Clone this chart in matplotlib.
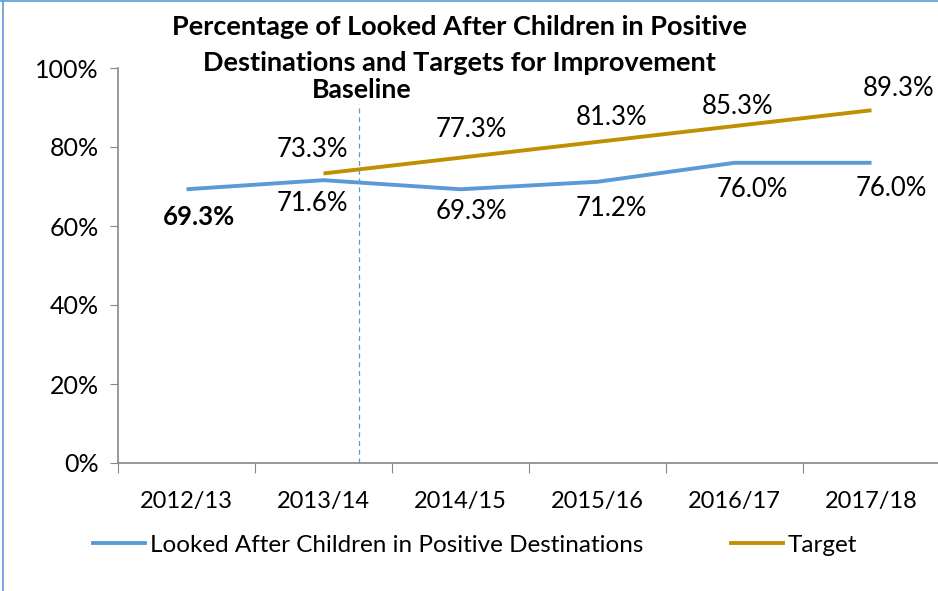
import numpy as np
import matplotlib.pyplot as plt
from matplotlib.lines import Line2D

# data
years = ['2012/13', '2013/14', '2014/15', '2015/16', '2016/17', '2017/18']
lac_pct = [69.3, 71.6, 69.3, 71.2, 76.0, 76.0]
target_years = ['2013/14', '2014/15', '2015/16', '2016/17', '2017/18']
target_pct = [73.3, 77.3, 81.3, 85.3, 89.3]
yticks = [0, 20, 40, 60, 80, 100]

blue = '#5B9BD5'
gold = '#BF9000'
grey = '#888888'
plt.rcParams['font.family'] = ['Lato', 'DejaVu Sans']

fig = plt.figure(figsize=(9.38, 5.91), dpi=100)
W, H = 938, 591
ax = fig.add_axes([118 / W, (H - 463) / H, 822 / W, 395 / H])

x = np.arange(len(years))
xt = np.array([years.index(y) for y in target_years])
ax.plot(x, lac_pct, color=blue, lw=2.8, solid_capstyle='butt')
ax.plot(xt, target_pct, color=gold, lw=2.8, solid_capstyle='butt')

ax.set_xlim(-0.5, len(years) - 0.5)
ax.set_ylim(0, 100)
ax.set_yticks(yticks)
ax.set_yticklabels([f'{v}%' for v in yticks], fontsize=18)
ax.set_xticks(np.arange(-0.5, len(years)), labels=[])
ax.set_xticks(x, labels=years, minor=True)
ax.tick_params(axis='x', which='minor', length=0, pad=20, labelsize=17)
ax.tick_params(axis='x', which='major', length=7, color=grey, direction='out')
ax.tick_params(axis='y', length=6, color=grey, pad=8)
for s in ['top', 'right']:
    ax.spines[s].set_visible(False)
for s in ['left', 'bottom']:
    ax.spines[s].set_color(grey)
    ax.spines[s].set_linewidth(1.2)

# data labels
lac_offsets = [(12, -28), (-11, -23), (11, -22), (14, -27), (18, -27), (20, -26)]
for i, (xi, v) in enumerate(zip(x, lac_pct)):
    dx, dy = lac_offsets[i]
    ax.annotate(f'{v:.1f}%', (xi, v), xytext=(dx, dy), textcoords='offset pixels',
                ha='center', va='center', fontsize=18.5,
                fontweight='bold' if i == 0 else 'normal')
tgt_offsets = [(-11, 24), (11, 28), (14, 24), (3, 20), (27, 22)]
for (xi, v), (dx, dy) in zip(zip(xt, target_pct), tgt_offsets):
    ax.annotate(f'{v:.1f}%', (xi, v), xytext=(dx, dy), textcoords='offset pixels',
                ha='center', va='center', fontsize=18.5)

# baseline marker
ax.plot([1.26, 1.26], [0, 91], color=blue, lw=0.9, ls=(0, (4, 3)), clip_on=False)
fig.text(362 / W, 1 - 90 / H, 'Baseline', ha='center', va='center',
         fontsize=19.2, fontweight='bold')

fig.text(459 / W, 1 - 27 / H, 'Percentage of Looked After Children in Positive',
         ha='center', va='center', fontsize=19.5, fontweight='bold')
fig.text(459 / W, 1 - 63 / H, 'Destinations and Targets for Improvement',
         ha='center', va='center', fontsize=19.5, fontweight='bold')

# legend
handles = [Line2D([], [], color=blue, lw=2.8),
           Line2D([], [], color=gold, lw=2.8)]
fig.legend(handles, ['Looked After Children in Positive Destinations', 'Target'],
           loc='center', bbox_to_anchor=(475 / W, 1 - 545 / H), ncol=2,
           frameon=False, fontsize=17.5, handlelength=2.15, handletextpad=0.2,
           columnspacing=3.6)

# chart border
fig.add_artist(Line2D([3 / W, 3 / W], [0, 1], color=blue, lw=1.2))
fig.add_artist(Line2D([0, 1], [1 - 1 / H, 1 - 1 / H], color=blue, lw=1.2))

fig.savefig('out.png', dpi=100)
